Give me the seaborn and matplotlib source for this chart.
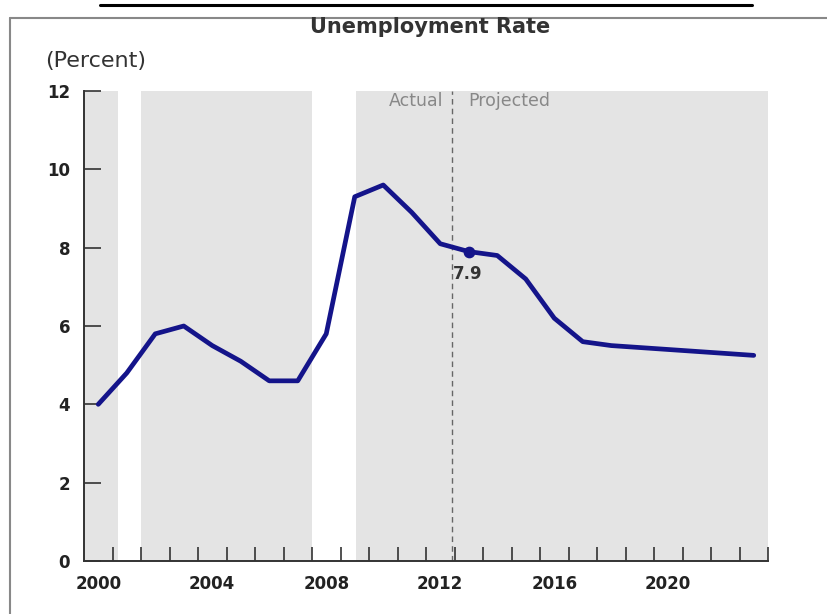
import matplotlib
matplotlib.use("Agg")
import matplotlib.pyplot as plt
import seaborn as sns
import pandas as pd
from matplotlib.lines import Line2D

# Unemployment rate, actual through 2012 and projected afterwards
years = [2000, 2001, 2002, 2003, 2004, 2005, 2006, 2007, 2008, 2009, 2010, 2011,
         2012, 2013, 2014, 2015, 2016, 2017, 2018, 2019, 2020, 2021, 2022, 2023]
rate = [4.0, 4.8, 5.8, 6.0, 5.5, 5.1, 4.6, 4.6, 5.8, 9.3, 9.6, 8.9,
        8.1, 7.9, 7.8, 7.2, 6.2, 5.6, 5.5, 5.45, 5.4, 5.35, 5.3, 5.25]
highlight_year = 2013
highlight_value = 7.9
split_year = 2012.4
# shaded spans along the time axis
shade_spans = [(1999.5, 2000.7), (2001.5, 2007.5), (2009.05, 2023.5)]
y_ticks = [0, 2, 4, 6, 8, 10, 12]
x_labels = [2000, 2004, 2008, 2012, 2016, 2020]

df = pd.DataFrame({"year": years, "rate": rate})

sns.set_theme(style="white")
plt.rcParams["font.family"] = ["DejaVu Sans"]

fig = plt.figure(figsize=(8.27, 6.14), dpi=100)
ax = fig.add_axes([84 / 827, 1 - 561 / 614, (768 - 84) / 827, (561 - 91) / 614])

for x0, x1 in shade_spans:
    ax.axvspan(x0, x1, color="#e4e4e4", lw=0, zorder=0)

ax.axvline(split_year, ymin=0, ymax=1, color="#666666", lw=1.0,
           ls=(0, (4, 3)), zorder=1)

sns.lineplot(data=df, x="year", y="rate", ax=ax, color="#14148a", lw=3.4,
             zorder=3)
ax.scatter([highlight_year], [highlight_value], s=55, color="#14148a",
           zorder=4)
ax.text(highlight_year - 0.05, highlight_value - 0.35, f"{highlight_value}",
        ha="center", va="top", fontsize=12, fontweight="bold", color="#333333")

ax.text(split_year - 0.3, 11.75, "Actual", ha="right", va="center",
        fontsize=12.5, color="#888888")
ax.text(split_year + 0.6, 11.75, "Projected", ha="left", va="center",
        fontsize=12.5, color="#888888")

ax.set_xlim(1999.5, 2023.5)
ax.set_ylim(0, 12)
ax.set_yticks(y_ticks)
ax.set_yticklabels([str(v) for v in y_ticks], fontsize=12, fontweight="bold",
                   color="#222222")
ax.set_xticks([y + 0.5 for y in range(2000, 2024)])
ax.set_xticklabels([])
ax.set_xticks(x_labels, minor=True)
ax.set_xticklabels([str(v) for v in x_labels], minor=True, fontsize=12,
                   fontweight="bold", color="#222222")
ax.tick_params(axis="x", which="major", direction="in", length=10, width=1.2,
               color="#333333", bottom=True)
ax.tick_params(axis="x", which="minor", length=0, pad=10)
ax.tick_params(axis="y", direction="in", length=12, width=1.2, color="#333333",
               left=True, pad=10)
ax.set_xlabel("")
ax.set_ylabel("")
for side in ["top", "right"]:
    ax.spines[side].set_visible(False)
for side in ["left", "bottom"]:
    ax.spines[side].set_color("#333333")
    ax.spines[side].set_linewidth(1.4)
ax.grid(False)

fig.text(430 / 827, 1 - 27 / 614, "Unemployment Rate", ha="center",
         va="center", fontsize=15, fontweight="bold", color="#333333")
fig.text(45 / 827, 1 - 61 / 614, "(Percent)", ha="left", va="center",
         fontsize=16, color="#333333")

# frame around the panel and the rule above it
fig.add_artist(Line2D([10 / 827, 10 / 827], [0, 1 - 18 / 614],
                      transform=fig.transFigure, color="#888888", lw=1.5))
fig.add_artist(Line2D([10 / 827, 1], [1 - 18 / 614, 1 - 18 / 614],
                      transform=fig.transFigure, color="#888888", lw=1.5))
fig.add_artist(Line2D([100 / 827, 752 / 827], [1 - 5 / 614, 1 - 5 / 614],
                      transform=fig.transFigure, color="black", lw=2.2))

fig.savefig("out.png", dpi=100)
